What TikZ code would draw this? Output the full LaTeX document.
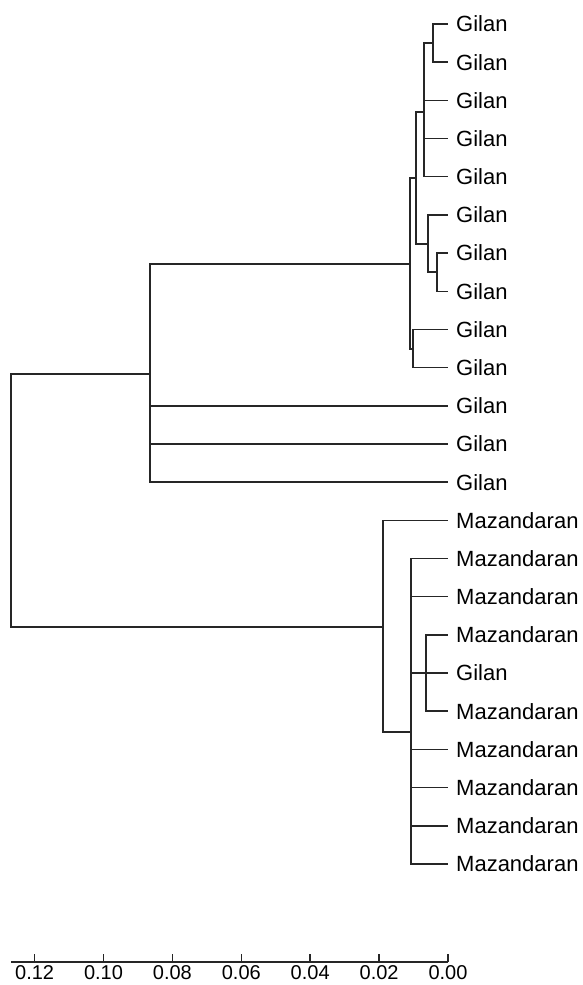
\documentclass[tikz,border=0pt]{standalone}
\usepackage{fontspec}
\setmainfont{Liberation Sans}
\usepackage{tikz}
\usetikzlibrary{positioning}

\begin{document}
\begin{tikzpicture}[
    x=1pt, y=-1pt,
    branch/.style={draw=black!85, line width=1.5pt},
    leaf/.style={anchor=west, inner sep=0pt, xshift=8pt, font=\fontsize{22}{26}\selectfont},
    scalelabel/.style={anchor=north, inner sep=0pt, font=\fontsize{20}{24}\selectfont}
]
\useasboundingbox (0,0) rectangle (583,985);

% Leaves
\foreach \i/\lab in {1/Gilan, 2/Gilan, 3/Gilan, 4/Gilan, 5/Gilan, 6/Gilan, 7/Gilan,
    8/Gilan, 9/Gilan, 10/Gilan, 11/Gilan, 12/Gilan, 13/Gilan, 14/Mazandaran,
    15/Mazandaran, 16/Mazandaran, 17/Mazandaran, 18/Gilan, 19/Mazandaran,
    20/Mazandaran, 21/Mazandaran, 22/Mazandaran, 23/Mazandaran} {
  \coordinate (l\i) at (448, {24+38.18*(\i-1)});
  \node[leaf] (t\i) at (l\i) {\lab};
}

% Inner nodes
\coordinate (g12) at (433, 43);
\coordinate (g15) at (424, 112);
\coordinate (g78) at (437, 272);
\coordinate (g68) at (428, 244);
\coordinate (g18) at (416, 178);
\coordinate (g910) at (413, 349);
\coordinate (gsub) at (410, 264);
\coordinate (gil) at (150, 374);
\coordinate (m1719) at (426, 673);
\coordinate (msub) at (411, 732);
\coordinate (maz) at (383, 627);
\coordinate (root) at (11, 500);

% Gilan group
\draw[branch] (g12) |- (l1);
\draw[branch] (g12) |- (l2);
\draw[branch] (g15) |- (g12);
\draw[branch] (g15) |- (l3);
\draw[branch] (g15) |- (l4);
\draw[branch] (g15) |- (l5);
\draw[branch] (g78) |- (l7);
\draw[branch] (g78) |- (l8);
\draw[branch] (g68) |- (l6);
\draw[branch] (g68) |- (g78);
\draw[branch] (g18) |- (g15);
\draw[branch] (g18) |- (g68);
\draw[branch] (g910) |- (l9);
\draw[branch] (g910) |- (l10);
\draw[branch] (gsub) |- (g18);
\draw[branch] (gsub) |- (g910);
\draw[branch] (gil) |- (gsub);
\draw[branch] (gil) |- (l11);
\draw[branch] (gil) |- (l12);
\draw[branch] (gil) |- (l13);

% Mazandaran group
\draw[branch] (m1719) |- (l17);
\draw[branch] (m1719) |- (l18);
\draw[branch] (m1719) |- (l19);
\foreach \c in {l15, l16, m1719, l20, l21, l22, l23}
  \draw[branch] (msub) |- (\c);
\draw[branch] (maz) |- (l14);
\draw[branch] (maz) |- (msub);

% Root
\draw[branch] (root) |- (gil);
\draw[branch] (root) |- (maz);

% Scale
\coordinate (ax0) at (11, 962);
\coordinate (ax1) at (448, 962);
\draw[branch] (ax0) -- (ax1);
\foreach \k/\v in {0/0.00, 1/0.02, 2/0.04, 3/0.06, 4/0.08, 5/0.10, 6/0.12} {
  \coordinate (tk\k) at (448-68.9*\k, 962);
  \draw[branch] (tk\k) -- ++(0,-8);
  \node[scalelabel] (v\k) at ([yshift=-3pt]tk\k) {\v};
}

\end{tikzpicture}
\end{document}
